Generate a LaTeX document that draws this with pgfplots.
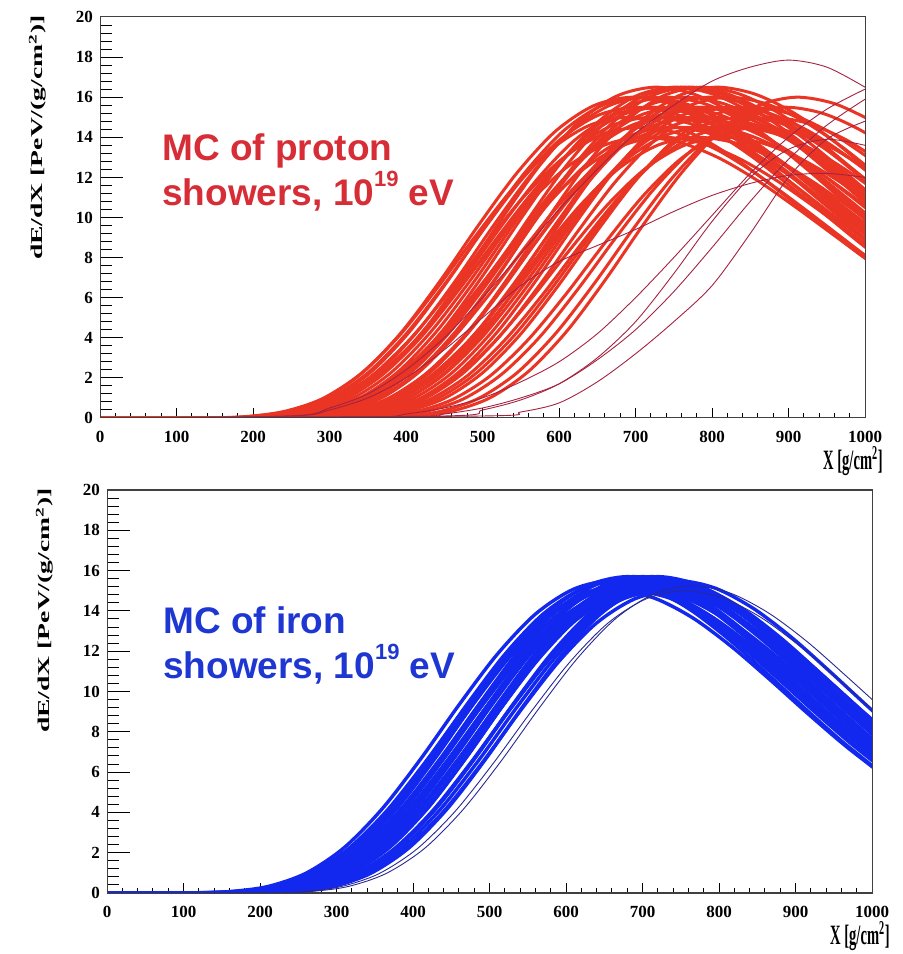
\documentclass[border=0pt]{standalone}
\usepackage{fontspec}
\setmainfont{Liberation Serif}
\newfontfamily\arialf{Liberation Sans}
\usepackage{graphicx}
\usepackage{pgfplots}
\pgfplotsset{compat=1.18}

\definecolor{pband}{RGB}{234,52,36}
\definecolor{pdark}{RGB}{165,35,65}
\definecolor{iband}{RGB}{18,40,238}
\definecolor{idark}{RGB}{40,40,150}
\definecolor{ptext}{RGB}{215,45,55}
\definecolor{itext}{RGB}{30,55,210}

\newcommand\tickfont{\bfseries\fontsize{8.5}{9}\selectfont}
\newcommand\ylab{\scalebox{1}[0.6]{\bfseries\fontsize{13.8}{14}\selectfont dE/dX [PeV/(g/cm\textsuperscript{2})]}}
\newcommand\xlab{\scalebox{0.52}[1]{\bfseries\fontsize{14}{14}\selectfont X [g/cm\textsuperscript{2}]}}
\newcommand\supr[1]{\raisebox{0.5em}{\fontsize{11}{11}\selectfont #1}}
\newcommand\bigtext{\arialf\bfseries\fontsize{18.5}{22}\selectfont}

\pgfplotsset{
  rootbox/.style={scale only axis, width=382.5pt, xmin=0, xmax=1000, ymin=0, ymax=20,
    axis line style={black!75, line width=0.5pt},
    tick align=inside, tick style={black, line width=0.5pt},
    /pgf/number format/assume math mode=true, /pgf/number format/1000 sep={}},
  mainax/.style={rootbox, xtick={0,100,...,1000}, minor x tick num=4, ytick=\empty,
    xtick pos=left, major tick length=5pt, minor tick length=2.5pt,
    xticklabel style={font=\tickfont, yshift=-3pt}},
  yover/.style={rootbox, clip=false, xtick=\empty, ytick={0,2,...,20}, minor y tick num=4,
    ytick pos=left, major tick length=11.5pt, minor tick length=6pt,
    yticklabel style={font=\tickfont}},
  pl/.style={pband, line width=1.5pt, smooth, mark=none},
  po/.style={pdark, line width=0.45pt, smooth, mark=none},
  il/.style={iband, line width=1.7pt, smooth, mark=none},
  io/.style={idark, line width=0.45pt, smooth, mark=none},
}

\begin{document}
\begin{tikzpicture}
\path[use as bounding box] (0,0) rectangle (451.5pt,477pt);

% ---------------- proton ----------------
\begin{axis}[mainax, height=200.5pt, at={(50pt,268pt)}, anchor=south west]
\addplot[pl] coordinates {(0,0)(140,0.01)(190,0.07)(240,0.32)(290,0.95)(340,2.18)(390,4.05)(440,6.44)(490,9.03)(540,11.46)(590,13.40)(640,14.60)(690,15.0)(740,14.70)(790,13.88)(840,12.68)(890,11.25)(940,9.75)(990,8.25)(1040,6.90)};
\addplot[pl] coordinates {(0,0)(150,0.01)(200,0.07)(250,0.33)(300,0.98)(350,2.25)(400,4.19)(450,6.65)(500,9.33)(550,11.84)(600,13.84)(650,15.08)(700,15.5)(750,15.19)(800,14.34)(850,13.10)(900,11.63)(950,10.08)(1000,8.53)(1050,7.13)};
\addplot[pl] coordinates {(0,0)(155,0.01)(205,0.07)(255,0.30)(305,0.91)(355,2.10)(405,3.92)(455,6.22)(505,8.73)(555,11.08)(605,12.95)(655,14.11)(705,14.5)(755,14.21)(805,13.41)(855,12.25)(905,10.88)(955,9.43)(1005,7.98)(1055,6.67)};
\addplot[pl] coordinates {(0,0)(165,0.01)(215,0.07)(265,0.34)(315,1.01)(365,2.32)(415,4.32)(465,6.86)(515,9.63)(565,12.22)(615,14.29)(665,15.57)(715,16.0)(765,15.68)(815,14.80)(865,13.52)(915,12.00)(965,10.40)(1015,8.80)};
\addplot[pl] coordinates {(0,0)(170,0.01)(220,0.07)(270,0.32)(320,0.95)(370,2.18)(420,4.05)(470,6.44)(520,9.03)(570,11.46)(620,13.40)(670,14.60)(720,15.0)(770,14.70)(820,13.88)(870,12.68)(920,11.25)(970,9.75)(1020,8.25)};
\addplot[pl] coordinates {(0,0)(180,0.01)(230,0.07)(280,0.33)(330,0.98)(380,2.25)(430,4.19)(480,6.65)(530,9.33)(580,11.84)(630,13.84)(680,15.08)(730,15.5)(780,15.19)(830,14.34)(880,13.10)(930,11.63)(980,10.08)(1030,8.53)};
\addplot[pl] coordinates {(0,0)(185,0.01)(235,0.06)(285,0.29)(335,0.88)(385,2.03)(435,3.78)(485,6.01)(535,8.43)(585,10.70)(635,12.50)(685,13.62)(735,14.0)(785,13.72)(835,12.95)(885,11.83)(935,10.50)(985,9.10)(1035,7.70)};
\addplot[pl] coordinates {(0,0)(190,0.01)(240,0.07)(290,0.34)(340,1.01)(390,2.32)(440,4.32)(490,6.86)(540,9.63)(590,12.22)(640,14.29)(690,15.57)(740,16.0)(790,15.68)(840,14.80)(890,13.52)(940,12.00)(990,10.40)(1040,8.80)};
\addplot[pl] coordinates {(0,0)(195,0.01)(245,0.07)(295,0.32)(345,0.95)(395,2.18)(445,4.05)(495,6.44)(545,9.03)(595,11.46)(645,13.40)(695,14.60)(745,15.0)(795,14.70)(845,13.88)(895,12.68)(945,11.25)(995,9.75)(1045,8.25)};
\addplot[pl] coordinates {(0,0)(200,0.01)(250,0.08)(300,0.35)(350,1.04)(400,2.39)(450,4.46)(500,7.08)(550,9.93)(600,12.61)(650,14.73)(700,16.05)(750,16.5)(800,16.17)(850,15.26)(900,13.94)(950,12.38)(1000,10.73)(1050,9.08)};
\addplot[pl] coordinates {(0,0)(205,0.01)(255,0.07)(305,0.33)(355,0.98)(405,2.25)(455,4.19)(505,6.65)(555,9.33)(605,11.84)(655,13.84)(705,15.08)(755,15.5)(805,15.19)(855,14.34)(905,13.10)(955,11.63)(1005,10.08)};
\addplot[pl] coordinates {(0,0)(210,0.01)(260,0.07)(310,0.30)(360,0.91)(410,2.10)(460,3.92)(510,6.22)(560,8.73)(610,11.08)(660,12.95)(710,14.11)(760,14.5)(810,14.21)(860,13.41)(910,12.25)(960,10.88)(1010,9.43)};
\addplot[pl] coordinates {(0,0)(215,0.01)(265,0.07)(315,0.34)(365,1.01)(415,2.32)(465,4.32)(515,6.86)(565,9.63)(615,12.22)(665,14.29)(715,15.57)(765,16.0)(815,15.68)(865,14.80)(915,13.52)(965,12.00)(1015,10.40)};
\addplot[pl] coordinates {(0,0)(220,0.01)(270,0.08)(320,0.35)(370,1.04)(420,2.39)(470,4.46)(520,7.08)(570,9.93)(620,12.61)(670,14.73)(720,16.05)(770,16.5)(820,16.17)(870,15.26)(920,13.94)(970,12.38)(1020,10.73)};
\addplot[pl] coordinates {(0,0)(225,0.01)(275,0.07)(325,0.32)(375,0.95)(425,2.18)(475,4.05)(525,6.44)(575,9.03)(625,11.46)(675,13.40)(725,14.60)(775,15.0)(825,14.70)(875,13.88)(925,12.68)(975,11.25)(1025,9.75)};
\addplot[pl] coordinates {(0,0)(230,0.01)(280,0.07)(330,0.33)(380,0.98)(430,2.25)(480,4.19)(530,6.65)(580,9.33)(630,11.84)(680,13.84)(730,15.08)(780,15.5)(830,15.19)(880,14.34)(930,13.10)(980,11.63)(1030,10.08)};
\addplot[pl] coordinates {(0,0)(235,0.01)(285,0.08)(335,0.35)(385,1.04)(435,2.39)(485,4.46)(535,7.08)(585,9.93)(635,12.61)(685,14.73)(735,16.05)(785,16.5)(835,16.17)(885,15.26)(935,13.94)(985,12.38)(1035,10.73)};
\addplot[pl] coordinates {(0,0)(240,0.01)(290,0.07)(340,0.30)(390,0.91)(440,2.10)(490,3.92)(540,6.22)(590,8.73)(640,11.08)(690,12.95)(740,14.11)(790,14.5)(840,14.21)(890,13.41)(940,12.25)(990,10.88)(1040,9.43)};
\addplot[pl] coordinates {(0,0)(245,0.01)(295,0.07)(345,0.34)(395,1.01)(445,2.32)(495,4.32)(545,6.86)(595,9.63)(645,12.22)(695,14.29)(745,15.57)(795,16.0)(845,15.68)(895,14.80)(945,13.52)(995,12.00)(1045,10.40)};
\addplot[pl] coordinates {(0,0)(250,0.01)(300,0.07)(350,0.32)(400,0.95)(450,2.18)(500,4.05)(550,6.44)(600,9.03)(650,11.46)(700,13.40)(750,14.60)(800,15.0)(850,14.70)(900,13.88)(950,12.68)(1000,11.25)(1050,9.75)};
\addplot[pl] coordinates {(0,0)(255,0.01)(305,0.08)(355,0.35)(405,1.04)(455,2.39)(505,4.46)(555,7.08)(605,9.93)(655,12.61)(705,14.73)(755,16.05)(805,16.5)(855,16.17)(905,15.26)(955,13.94)(1005,12.38)};
\addplot[pl] coordinates {(0,0)(260,0.01)(310,0.07)(360,0.33)(410,0.98)(460,2.25)(510,4.19)(560,6.65)(610,9.33)(660,11.84)(710,13.84)(760,15.08)(810,15.5)(860,15.19)(910,14.34)(960,13.10)(1010,11.63)};
\addplot[pl] coordinates {(0,0)(265,0.01)(315,0.06)(365,0.29)(415,0.88)(465,2.03)(515,3.78)(565,6.01)(615,8.43)(665,10.70)(715,12.50)(765,13.62)(815,14.0)(865,13.72)(915,12.95)(965,11.83)(1015,10.50)};
\addplot[pl] coordinates {(0,0)(270,0.01)(320,0.07)(370,0.34)(420,1.01)(470,2.32)(520,4.32)(570,6.86)(620,9.63)(670,12.22)(720,14.29)(770,15.57)(820,16.0)(870,15.68)(920,14.80)(970,13.52)(1020,12.00)};
\addplot[pl] coordinates {(0,0)(280,0.01)(330,0.07)(380,0.30)(430,0.91)(480,2.10)(530,3.92)(580,6.22)(630,8.73)(680,11.08)(730,12.95)(780,14.11)(830,14.5)(880,14.21)(930,13.41)(980,12.25)(1030,10.88)};
\addplot[pl] coordinates {(0,0)(290,0.01)(340,0.07)(390,0.32)(440,0.95)(490,2.18)(540,4.05)(590,6.44)(640,9.03)(690,11.46)(740,13.40)(790,14.60)(840,15.0)(890,14.70)(940,13.88)(990,12.68)(1040,11.25)};
\addplot[pl] coordinates {(0,0)(300,0.01)(350,0.07)(400,0.33)(450,0.98)(500,2.25)(550,4.19)(600,6.65)(650,9.33)(700,11.84)(750,13.84)(800,15.08)(850,15.5)(900,15.19)(950,14.34)(1000,13.10)(1050,11.63)};
\addplot[pl] coordinates {(0,0)(310,0.01)(360,0.07)(410,0.30)(460,0.91)(510,2.10)(560,3.92)(610,6.22)(660,8.73)(710,11.08)(760,12.95)(810,14.11)(860,14.5)(910,14.21)(960,13.41)(1010,12.25)};
\addplot[pl] coordinates {(0,0)(325,0.01)(375,0.07)(425,0.32)(475,0.95)(525,2.18)(575,4.05)(625,6.44)(675,9.03)(725,11.46)(775,13.40)(825,14.60)(875,15.0)(925,14.70)(975,13.88)(1025,12.68)};
\addplot[pl] coordinates {(0,0)(175,0.01)(225,0.08)(275,0.35)(325,1.04)(375,2.39)(425,4.46)(475,7.08)(525,9.93)(575,12.61)(625,14.73)(675,16.05)(725,16.5)(775,16.17)(825,15.26)(875,13.94)(925,12.38)(975,10.73)(1025,9.08)};
\addplot[pl] coordinates {(0,0)(160,0.01)(210,0.06)(260,0.29)(310,0.88)(360,2.03)(410,3.78)(460,6.01)(510,8.43)(560,10.70)(610,12.50)(660,13.62)(710,14.0)(760,13.72)(810,12.95)(860,11.83)(910,10.50)(960,9.10)(1010,7.70)};
\addplot[pl] coordinates {(0,0)(345,0.01)(395,0.07)(445,0.33)(495,0.98)(545,2.25)(595,4.19)(645,6.65)(695,9.33)(745,11.84)(795,13.84)(845,15.08)(895,15.5)(945,15.19)(995,14.34)(1045,13.10)};
\addplot[pl] coordinates {(0,0)(360,0.01)(410,0.07)(460,0.34)(510,1.01)(560,2.32)(610,4.32)(660,6.86)(710,9.63)(760,12.22)(810,14.29)(860,15.57)(910,16.0)(960,15.68)(1010,14.80)};
\addplot[pl] coordinates {(0,0)(230,0.01)(280,0.06)(330,0.29)(380,0.88)(430,2.03)(480,3.78)(530,6.01)(580,8.43)(630,10.70)(680,12.50)(730,13.62)(780,14.0)(830,13.72)(880,12.95)(930,11.83)(980,10.50)(1030,9.10)};
\addplot[pl] coordinates {(0,0)(275,0.01)(325,0.07)(375,0.33)(425,0.98)(475,2.25)(525,4.19)(575,6.65)(625,9.33)(675,11.84)(725,13.84)(775,15.08)(825,15.5)(875,15.19)(925,14.34)(975,13.10)(1025,11.63)};
\addplot[pl] coordinates {(0,0)(145,0.01)(195,0.07)(245,0.34)(295,1.01)(345,2.32)(395,4.32)(445,6.86)(495,9.63)(545,12.22)(595,14.29)(645,15.57)(695,16.0)(745,15.68)(795,14.80)(845,13.52)(895,12.00)(945,10.40)(995,8.80)(1045,7.36)};
\addplot[pl] coordinates {(0,0)(155,0.01)(205,0.07)(255,0.34)(305,1.01)(355,2.32)(405,4.32)(455,6.86)(505,9.63)(555,12.22)(605,14.29)(655,15.57)(705,16.0)(755,15.68)(805,14.80)(855,13.52)(905,12.00)(955,10.40)(1005,8.80)};
\addplot[pl] coordinates {(0,0)(210,0.01)(260,0.08)(310,0.35)(360,1.04)(410,2.39)(460,4.46)(510,7.08)(560,9.93)(610,12.61)(660,14.73)(710,16.05)(760,16.5)(810,16.17)(860,15.26)(910,13.94)(960,12.38)(1010,10.73)};
\addplot[pl] coordinates {(0,0)(240,0.01)(290,0.07)(340,0.33)(390,0.98)(440,2.25)(490,4.19)(540,6.65)(590,9.33)(640,11.84)(690,13.84)(740,15.08)(790,15.5)(840,15.19)(890,14.34)(940,13.10)(990,11.63)(1040,10.08)};
\addplot[pl] coordinates {(0,0)(195,0.01)(245,0.07)(295,0.30)(345,0.91)(395,2.10)(445,3.92)(495,6.22)(545,8.73)(595,11.08)(645,12.95)(695,14.11)(745,14.5)(795,14.21)(845,13.41)(895,12.25)(945,10.88)(995,9.43)(1045,7.98)};
\addplot[pl] coordinates {(0,0)(170,0.01)(220,0.07)(270,0.33)(320,0.98)(370,2.25)(420,4.19)(470,6.65)(520,9.33)(570,11.84)(620,13.84)(670,15.08)(720,15.5)(770,15.19)(820,14.34)(870,13.10)(920,11.63)(970,10.08)(1020,8.53)};
% late / unusual showers
\addplot[po] coordinates {(0,0)(250,0.1)(300,0.5)(350,1.2)(400,2.4)(450,4.0)(500,6.0)(550,8.2)(600,10.4)(650,12.4)(700,14.2)(750,15.6)(800,16.8)(850,17.5)(900,17.85)(950,17.5)(1000,16.5)};
\addplot[po] coordinates {(0,0)(350,0.05)(400,0.2)(450,0.5)(500,1.0)(550,1.8)(600,2.8)(650,4.2)(700,6.0)(750,8.0)(800,10.1)(850,12.2)(900,14.0)(950,15.4)(1000,16.4)};
\addplot[po] coordinates {(0,0)(400,0.05)(450,0.2)(500,0.5)(550,1.0)(600,1.7)(650,2.9)(700,4.4)(750,6.3)(800,8.5)(850,10.8)(900,12.9)(950,14.6)(1000,15.9)};
\addplot[po] coordinates {(0,0)(450,0.1)(500,0.4)(550,0.9)(600,1.7)(650,3.0)(700,4.8)(750,7.2)(800,9.8)(850,12.0)(900,13.4)(950,13.9)(1000,13.6)};
\addplot[po] coordinates {(0,0)(250,0.1)(300,0.4)(350,1.0)(400,2.0)(450,3.4)(500,5.0)(550,6.6)(600,7.8)(650,8.6)(700,9.4)(750,10.3)(800,11.1)(850,11.7)(900,12.1)(950,12.2)(1000,12.0)};
\addplot[po] coordinates {(0,0)(500,0.1)(550,0.3)(600,0.75)(650,1.8)(700,3.2)(750,4.8)(800,6.6)(850,9.2)(900,12.0)(950,13.9)(1000,14.8)};
\end{axis}
\begin{axis}[yover, height=200.5pt, at={(50pt,268pt)}, anchor=south west]
\node[anchor=base west, inner sep=0, text=ptext, font=\bigtext] at (rel axis cs:0.081,0.642) {MC of proton};
\node[anchor=base west, inner sep=0, text=ptext, font=\bigtext] at (rel axis cs:0.081,0.530) {showers, 10\supr{19} eV};
\node[xshift=-26.5pt, yshift=1pt, rotate=90, anchor=south east, inner sep=0] at (rel axis cs:0,1) {\ylab};
\node[anchor=north east, inner sep=0, xshift=9pt, yshift=-14pt] at (rel axis cs:1,0) {\xlab};
\end{axis}

% ---------------- iron ----------------
\begin{axis}[mainax, height=201.5pt, at={(53.5pt,30.5pt)}, anchor=south west]
\addplot[il] coordinates {(0,0)(110,0.01)(160,0.07)(210,0.32)(260,0.98)(310,2.25)(360,4.19)(410,6.65)(460,9.33)(510,11.84)(560,13.84)(610,15.08)(660,15.5)(710,15.13)(760,14.12)(810,12.68)(860,10.99)(910,9.24)(960,7.55)(1010,6.03)};
\addplot[il] coordinates {(0,0)(115,0.01)(165,0.07)(215,0.31)(265,0.95)(315,2.18)(365,4.05)(415,6.44)(465,9.03)(515,11.46)(565,13.40)(615,14.60)(665,15.0)(715,14.64)(765,13.67)(815,12.27)(865,10.64)(915,8.94)(965,7.31)(1015,5.84)};
\addplot[il] coordinates {(0,0)(120,0.01)(170,0.07)(220,0.32)(270,0.98)(320,2.25)(370,4.19)(420,6.65)(470,9.33)(520,11.84)(570,13.84)(620,15.08)(670,15.5)(720,15.13)(770,14.12)(820,12.68)(870,10.99)(920,9.24)(970,7.55)(1020,6.03)};
\addplot[il] coordinates {(0,0)(122,0.01)(172,0.07)(222,0.32)(272,0.97)(322,2.21)(372,4.12)(422,6.54)(472,9.18)(522,11.65)(572,13.62)(622,14.84)(672,15.25)(722,14.88)(772,13.89)(822,12.48)(872,10.81)(922,9.09)(972,7.43)(1022,5.93)};
\addplot[il] coordinates {(0,0)(125,0.01)(175,0.07)(225,0.32)(275,0.97)(325,2.21)(375,4.12)(425,6.54)(475,9.18)(525,11.65)(575,13.62)(625,14.84)(675,15.25)(725,14.88)(775,13.89)(825,12.48)(875,10.81)(925,9.09)(975,7.43)(1025,5.93)};
\addplot[il] coordinates {(0,0)(130,0.01)(180,0.07)(230,0.33)(280,1.00)(330,2.28)(380,4.24)(430,6.74)(480,9.45)(530,12.00)(580,14.02)(630,15.28)(680,15.7)(730,15.32)(780,14.30)(830,12.84)(880,11.13)(930,9.36)(980,7.65)(1030,6.11)};
\addplot[il] coordinates {(0,0)(133,0.01)(183,0.07)(233,0.32)(283,0.97)(333,2.21)(383,4.12)(433,6.54)(483,9.18)(533,11.65)(583,13.62)(633,14.84)(683,15.25)(733,14.88)(783,13.89)(833,12.48)(883,10.81)(933,9.09)(983,7.43)(1033,5.93)};
\addplot[il] coordinates {(0,0)(135,0.01)(185,0.07)(235,0.31)(285,0.95)(335,2.18)(385,4.05)(435,6.44)(485,9.03)(535,11.46)(585,13.40)(635,14.60)(685,15.0)(735,14.64)(785,13.67)(835,12.27)(885,10.64)(935,8.94)(985,7.31)(1035,5.84)};
\addplot[il] coordinates {(0,0)(138,0.01)(188,0.07)(238,0.33)(288,1.00)(338,2.28)(388,4.24)(438,6.74)(488,9.45)(538,12.00)(588,14.02)(638,15.28)(688,15.7)(738,15.32)(788,14.30)(838,12.84)(888,11.13)(938,9.36)(988,7.65)(1038,6.11)};
\addplot[il] coordinates {(0,0)(140,0.01)(190,0.07)(240,0.32)(290,0.98)(340,2.25)(390,4.19)(440,6.65)(490,9.33)(540,11.84)(590,13.84)(640,15.08)(690,15.5)(740,15.13)(790,14.12)(840,12.68)(890,10.99)(940,9.24)(990,7.55)(1040,6.03)};
\addplot[il] coordinates {(0,0)(142,0.01)(192,0.07)(242,0.31)(292,0.95)(342,2.18)(392,4.05)(442,6.44)(492,9.03)(542,11.46)(592,13.40)(642,14.60)(692,15.0)(742,14.64)(792,13.67)(842,12.27)(892,10.64)(942,8.94)(992,7.31)(1042,5.84)};
\addplot[il] coordinates {(0,0)(145,0.01)(195,0.07)(245,0.32)(295,0.97)(345,2.21)(395,4.12)(445,6.54)(495,9.18)(545,11.65)(595,13.62)(645,14.84)(695,15.25)(745,14.88)(795,13.89)(845,12.48)(895,10.81)(945,9.09)(995,7.43)(1045,5.93)};
\addplot[il] coordinates {(0,0)(148,0.01)(198,0.07)(248,0.32)(298,0.97)(348,2.21)(398,4.12)(448,6.54)(498,9.18)(548,11.65)(598,13.62)(648,14.84)(698,15.25)(748,14.88)(798,13.89)(848,12.48)(898,10.81)(948,9.09)(998,7.43)(1048,5.93)};
\addplot[il] coordinates {(0,0)(150,0.01)(200,0.07)(250,0.33)(300,1.00)(350,2.28)(400,4.24)(450,6.74)(500,9.45)(550,12.00)(600,14.02)(650,15.28)(700,15.7)(750,15.32)(800,14.30)(850,12.84)(900,11.13)(950,9.36)(1000,7.65)(1050,6.11)};
\addplot[il] coordinates {(0,0)(153,0.01)(203,0.07)(253,0.32)(303,0.98)(353,2.25)(403,4.19)(453,6.65)(503,9.33)(553,11.84)(603,13.84)(653,15.08)(703,15.5)(753,15.13)(803,14.12)(853,12.68)(903,10.99)(953,9.24)(1003,7.55)};
\addplot[il] coordinates {(0,0)(155,0.01)(205,0.07)(255,0.31)(305,0.95)(355,2.18)(405,4.05)(455,6.44)(505,9.03)(555,11.46)(605,13.40)(655,14.60)(705,15.0)(755,14.64)(805,13.67)(855,12.27)(905,10.64)(955,8.94)(1005,7.31)};
\addplot[il] coordinates {(0,0)(158,0.01)(208,0.07)(258,0.31)(308,0.95)(358,2.18)(408,4.05)(458,6.44)(508,9.03)(558,11.46)(608,13.40)(658,14.60)(708,15.0)(758,14.64)(808,13.67)(858,12.27)(908,10.64)(958,8.94)(1008,7.31)};
\addplot[il] coordinates {(0,0)(160,0.01)(210,0.07)(260,0.32)(310,0.98)(360,2.25)(410,4.19)(460,6.65)(510,9.33)(560,11.84)(610,13.84)(660,15.08)(710,15.5)(760,15.13)(810,14.12)(860,12.68)(910,10.99)(960,9.24)(1010,7.55)};
\addplot[il] coordinates {(0,0)(162,0.01)(212,0.07)(262,0.33)(312,1.00)(362,2.28)(412,4.24)(462,6.74)(512,9.45)(562,12.00)(612,14.02)(662,15.28)(712,15.7)(762,15.32)(812,14.30)(862,12.84)(912,11.13)(962,9.36)(1012,7.65)};
\addplot[il] coordinates {(0,0)(165,0.01)(215,0.07)(265,0.32)(315,0.97)(365,2.21)(415,4.12)(465,6.54)(515,9.18)(565,11.65)(615,13.62)(665,14.84)(715,15.25)(765,14.88)(815,13.89)(865,12.48)(915,10.81)(965,9.09)(1015,7.43)};
\addplot[il] coordinates {(0,0)(168,0.01)(218,0.07)(268,0.32)(318,0.98)(368,2.25)(418,4.19)(468,6.65)(518,9.33)(568,11.84)(618,13.84)(668,15.08)(718,15.5)(768,15.13)(818,14.12)(868,12.68)(918,10.99)(968,9.24)(1018,7.55)};
\addplot[il] coordinates {(0,0)(170,0.01)(220,0.07)(270,0.33)(320,1.00)(370,2.28)(420,4.24)(470,6.74)(520,9.45)(570,12.00)(620,14.02)(670,15.28)(720,15.7)(770,15.32)(820,14.30)(870,12.84)(920,11.13)(970,9.36)(1020,7.65)};
\addplot[il] coordinates {(0,0)(175,0.01)(225,0.07)(275,0.31)(325,0.95)(375,2.18)(425,4.05)(475,6.44)(525,9.03)(575,11.46)(625,13.40)(675,14.60)(725,15.0)(775,14.64)(825,13.67)(875,12.27)(925,10.64)(975,8.94)(1025,7.31)};
\addplot[il] coordinates {(0,0)(178,0.01)(228,0.07)(278,0.32)(328,0.97)(378,2.21)(428,4.12)(478,6.54)(528,9.18)(578,11.65)(628,13.62)(678,14.84)(728,15.25)(778,14.88)(828,13.89)(878,12.48)(928,10.81)(978,9.09)(1028,7.43)};
\addplot[il] coordinates {(0,0)(180,0.01)(230,0.07)(280,0.32)(330,0.98)(380,2.25)(430,4.19)(480,6.65)(530,9.33)(580,11.84)(630,13.84)(680,15.08)(730,15.5)(780,15.13)(830,14.12)(880,12.68)(930,10.99)(980,9.24)(1030,7.55)};
\addplot[il] coordinates {(0,0)(185,0.01)(235,0.07)(285,0.32)(335,0.97)(385,2.21)(435,4.12)(485,6.54)(535,9.18)(585,11.65)(635,13.62)(685,14.84)(735,15.25)(785,14.88)(835,13.89)(885,12.48)(935,10.81)(985,9.09)(1035,7.43)};
\addplot[il] coordinates {(0,0)(190,0.01)(240,0.07)(290,0.31)(340,0.95)(390,2.18)(440,4.05)(490,6.44)(540,9.03)(590,11.46)(640,13.40)(690,14.60)(740,15.0)(790,14.64)(840,13.67)(890,12.27)(940,10.64)(990,8.94)(1040,7.31)};
\addplot[il] coordinates {(0,0)(195,0.01)(245,0.07)(295,0.32)(345,0.98)(395,2.25)(445,4.19)(495,6.65)(545,9.33)(595,11.84)(645,13.84)(695,15.08)(745,15.5)(795,15.13)(845,14.12)(895,12.68)(945,10.99)(995,9.24)(1045,7.55)};
\addplot[io] coordinates {(0,0)(205,0.01)(255,0.07)(305,0.31)(355,0.95)(405,2.18)(455,4.05)(505,6.44)(555,9.03)(605,11.46)(655,13.40)(705,14.60)(755,15.0)(805,14.64)(855,13.67)(905,12.27)(955,10.64)(1005,8.94)};
\addplot[io] coordinates {(0,0)(215,0.01)(265,0.07)(315,0.32)(365,0.97)(415,2.21)(465,4.12)(515,6.54)(565,9.18)(615,11.65)(665,13.62)(715,14.84)(765,15.25)(815,14.88)(865,13.89)(915,12.48)(965,10.81)(1015,9.09)};
\end{axis}
\begin{axis}[yover, height=201.5pt, at={(53.5pt,30.5pt)}, anchor=south west]
\node[anchor=base west, inner sep=0, text=itext, font=\bigtext] at (rel axis cs:0.073,0.645) {MC of iron};
\node[anchor=base west, inner sep=0, text=itext, font=\bigtext] at (rel axis cs:0.073,0.533) {showers, 10\supr{19} eV};
\node[xshift=-26.5pt, yshift=1pt, rotate=90, anchor=south east, inner sep=0] at (rel axis cs:0,1) {\ylab};
\node[anchor=north east, inner sep=0, xshift=9pt, yshift=-14pt] at (rel axis cs:1,0) {\xlab};
\end{axis}
\end{tikzpicture}
\end{document}
